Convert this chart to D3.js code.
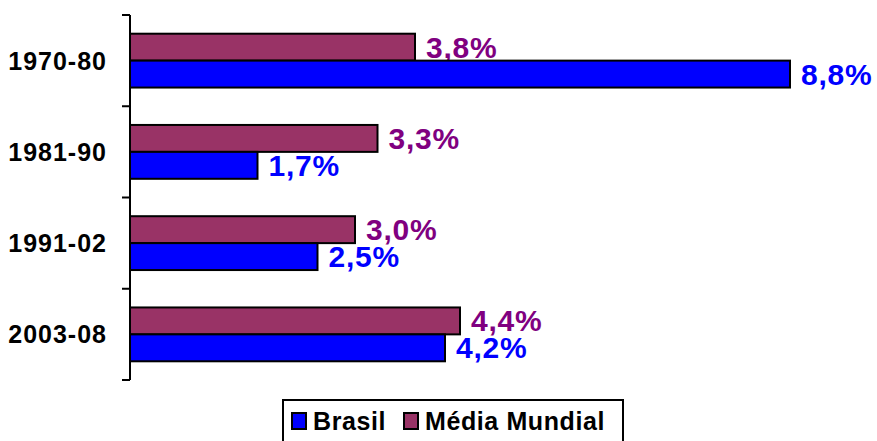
<!DOCTYPE html>
<html>
<head>
<meta charset="utf-8">
<script src="https://cdn.jsdelivr.net/npm/d3@7"></script>
<style>
  body { margin: 0; background: #fff; }
  svg { display: block; font-family: Arial, "Liberation Sans", sans-serif; font-weight: bold; }
</style>
</head>
<body>
<div id="viz"></div>
<script>
const periods = ['1970-80', '1981-90', '1991-02', '2003-08'];
const brasil = [8.8, 1.7, 2.5, 4.2];
const mediaMundial = [3.8, 3.3, 3.0, 4.4];
const seriesNames = ['Brasil', 'Média Mundial'];

const width = 877, height = 441,
  margin = { top: 15, right: 86, bottom: 61, left: 130 };

const svg = d3.select('#viz')
  .append('svg')
  .attr('width', width)
  .attr('height', height)

const xScale = d3.scaleLinear()
  .domain([0, 8.8])
  .range([margin.left, width - margin.right - 1]);

const yScale = d3.scaleBand()
  .domain(periods)
  .range([margin.top, height - margin.bottom])
  .paddingInner(0.41)
  .paddingOuter(0.205);

const barH = yScale.bandwidth() / 2;

// y axis, ticks sit between the categories
const yAxis = svg.append('g');
yAxis.append('line')
  .attr('x1', margin.left).attr('x2', margin.left)
  .attr('y1', margin.top).attr('y2', height - margin.bottom)
  .attr('stroke', '#000').attr('stroke-width', 2);

const tickYs = d3.range(periods.length + 1).map(i => margin.top + i * (height - margin.top - margin.bottom) / periods.length);
yAxis.selectAll('.tick')
  .data(tickYs)
  .enter().append('line')
  .attr('x1', margin.left - 8).attr('x2', margin.left)
  .attr('y1', d => d).attr('y2', d => d)
  .attr('stroke', '#000').attr('stroke-width', 2);

yAxis.selectAll('.cat')
  .data(periods)
  .enter().append('text')
  .attr('x', 107)
  .attr('y', d => yScale(d) + yScale.bandwidth() / 2)
  .attr('text-anchor', 'end')
  .attr('dominant-baseline', 'central')
  .attr('font-size', 25)
  .attr('letter-spacing', 1)
  .attr('fill', '#000')
  .text(d => d);

const fmt = v => v.toFixed(1).replace('.', ',') + '%';

const series = [
  { name: 'Média Mundial', values: mediaMundial, fill: '#993366', text: '#800080', offset: 0 },
  { name: 'Brasil', values: brasil, fill: '#0000ff', text: '#0000ff', offset: 1 }
];

series.forEach(s => {
  const g = svg.append('g');
  g.selectAll('rect')
    .data(s.values)
    .enter().append('rect')
    .attr('x', xScale(0))
    .attr('y', (d, i) => yScale(periods[i]) + s.offset * barH)
    .attr('width', d => xScale(d) - xScale(0))
    .attr('height', barH)
    .attr('fill', s.fill)
    .attr('stroke', '#000')
    .attr('stroke-width', 2);

  g.selectAll('text')
    .data(s.values)
    .enter().append('text')
    .attr('x', d => xScale(d) + 11)
    .attr('y', (d, i) => yScale(periods[i]) + s.offset * barH + barH / 2)
    .attr('dominant-baseline', 'central')
    .attr('font-size', 30)
    .attr('letter-spacing', 0.8)
    .attr('fill', s.text)
    .text(fmt);
});

// legend
const legend = svg.append('g');
legend.append('rect')
  .attr('x', 283).attr('y', 400)
  .attr('width', 340).attr('height', 50)
  .attr('fill', '#fff').attr('stroke', '#000').attr('stroke-width', 2);

const legendItems = [
  { name: seriesNames[0], fill: '#0000ff', x: 292 },
  { name: seriesNames[1], fill: '#993366', x: 404 }
];
legendItems.forEach(it => {
  legend.append('rect')
    .attr('x', it.x).attr('y', 413)
    .attr('width', 14).attr('height', 16)
    .attr('fill', it.fill).attr('stroke', '#000').attr('stroke-width', 2);
  legend.append('text')
    .attr('x', it.x + 21).attr('y', 421)
    .attr('dominant-baseline', 'central')
    .attr('font-size', 25)
    .attr('letter-spacing', 0.6)
    .attr('fill', '#000')
    .text(it.name);
});
</script>
</body>
</html>
